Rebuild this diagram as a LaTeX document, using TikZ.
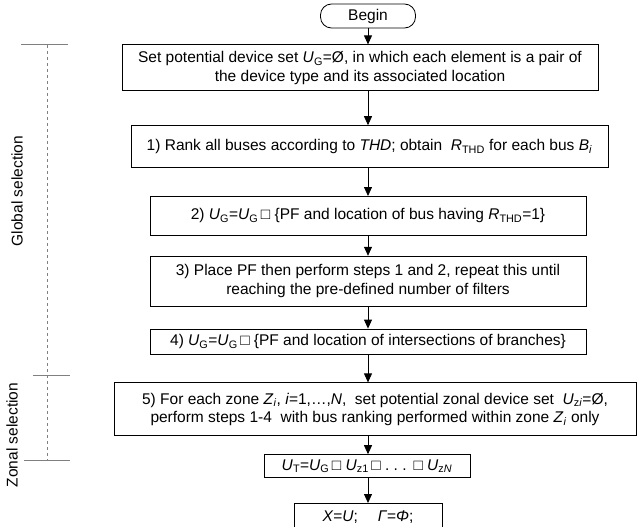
\documentclass[tikz,border=0pt]{standalone}
\usepackage{fontspec}
\setmainfont{Liberation Sans}
\usetikzlibrary{arrows.meta,positioning}
\newcommand{\un}{\,□}
\newcommand{\UG}{\textit{U}\textsubscript{G}}

\begin{document}
\begin{tikzpicture}[x=1pt,y=-1pt, box/.style={draw,align=center,font=\fontsize{15.5}{18.5}\selectfont,inner sep=0pt,line width=0.8pt}, >={Triangle[length=9pt,width=8pt]}, brace/.style={draw=gray,line width=1pt}]
\useasboundingbox (0,0) rectangle (637,527);
\node[box,rounded corners=11pt,minimum width=95pt,minimum height=24pt] (begin) at (368,16) {Begin};
\node[box,below=16pt of begin,xshift=-8pt,minimum width=476pt,minimum height=46pt] (s0) {Set potential device set \UG=Ø, in which each element is a pair of\\the device type and its associated location};
\node[box,below=34pt of s0,xshift=9.5pt,minimum width=477pt,minimum height=42pt] (s1) {1) Rank all buses according to \textit{THD}; obtain \ \textit{R}\textsubscript{THD} for each bus \textit{B}\textsubscript{\textit{i}}};
\node[box,below=28pt of s1,xshift=-1.5pt,minimum width=436pt,minimum height=39pt] (s2) {2) \UG=\UG\un\ \{PF and location of bus having \textit{R}\textsubscript{THD}=1\}};
\node[box,below=20pt of s2,minimum width=436pt,minimum height=50pt] (s3) {3) Place PF then perform steps 1 and 2, repeat this until\\reaching the pre-defined number of filters};
\node[box,below=22pt of s3,minimum width=436pt,minimum height=25pt] (s4) {4) \UG=\UG\un\ \{PF and location of intersections of branches\}};
\node[box,below=28pt of s4,xshift=7pt,minimum width=522pt,minimum height=53pt] (s5) {5) For each zone \textit{Z}\textsubscript{\textit{i}}, \textit{i}=1,\ldots,\textit{N}, \ set potential zonal device set \ \textit{U}\textsubscript{z\textit{i}}=Ø,\\perform steps 1-4 \ with bus ranking performed within zone \textit{Z}\textsubscript{\textit{i}} only};
\node[box,below=18pt of s5,xshift=-8pt,minimum width=206pt,minimum height=23pt] (s6) {\textit{U}\textsubscript{T}=\UG\un\ \textit{U}\textsubscript{z1}\un\ .\ .\ .\ \un\ \textit{U}\textsubscript{z\textit{N}}};
\node[box,below=25pt of s6,xshift=1pt,minimum width=148pt,minimum height=28pt] (s7) {\textit{X}=\textit{U}; \quad \textit{Γ}=\textit{Φ};};
\draw[->,line width=0.8pt] (begin) -- (s0.north -| begin);
\foreach \a/\b in {s0/s1,s1/s2,s2/s3,s3/s4,s4/s5,s5/s6,s6/s7}
  \draw[->,line width=0.8pt] (\a.south -| begin) -- (\b.north -| begin);
% selection bracket
\coordinate (gtop) at (47,45);
\coordinate (zmid) at (47,375);
\coordinate (zbot) at (47,460);
\draw[brace,dashed,line width=0.6pt] (gtop) -- (zbot);
\draw[brace] ([xshift=-26pt]gtop) -- ([xshift=21pt]gtop);
\draw[brace] ([xshift=-14pt]zmid) -- ([xshift=23pt]zmid);
\draw[brace] ([xshift=-23pt]zbot) -- ([xshift=23pt]zbot);
\node[rotate=90,font=\fontsize{15.5}{18}\selectfont] (glob) at (17,191) {Global selection};
\node[rotate=90,font=\fontsize{15.5}{18}\selectfont] (zone) at (12,435) {Zonal selection};
\end{tikzpicture}
\end{document}
